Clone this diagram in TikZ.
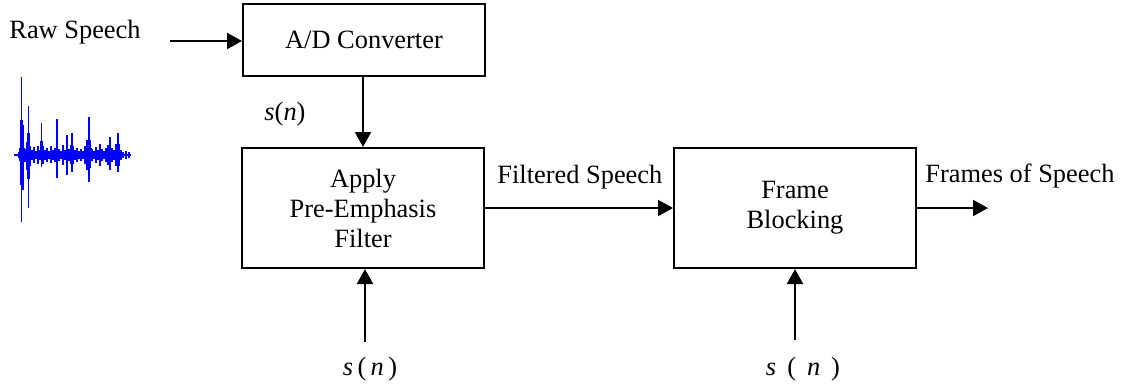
\documentclass[tikz,border=0pt]{standalone}
\usepackage{fontspec}
\setmainfont{Liberation Serif}
\usetikzlibrary{arrows.meta}
\begin{document}
\begin{tikzpicture}[x=0.5pt,y=-0.5pt,
  font=\fontsize{13.2}{15}\selectfont,
  blockbox/.style={draw,line width=1pt,inner sep=0pt,align=center,
    minimum width=121pt,minimum height=60pt},
  flow/.style={line width=1pt,-{Triangle[length=7.5pt,width=8pt]}},
  wave/.style={blue,line width=0.6pt}]
\useasboundingbox (0,0) rectangle (1125,387);

% blocks
\node[blockbox,minimum height=36pt] (ad) at (364,40) {A/D Converter};
\node[blockbox] (pre) at (363,208) {Apply\\Pre-Emphasis\\Filter};
\node[blockbox] (frame) at (795,208) {Frame\\Blocking};

% labels
\node[anchor=base west,inner sep=0pt] (raw) at (9,38) {Raw Speech};
\node[anchor=base,inner sep=0pt] (sn0) at (285,120) {\textit{s}(\textit{n})};
\node[anchor=base west,inner sep=0pt] (filt) at (497,183) {Filtered Speech};
\node[anchor=base west,inner sep=0pt] (fos) at (925,182) {Frames of Speech};
\node[anchor=base,inner sep=0pt] (sn1) at (370,375) {\textit{s}\,(\,\textit{n}\,)};
\node[anchor=base,inner sep=0pt] (sn2) at (803,375) {\textit{s} \,( \,\textit{n} \,)};

% connector end points
\coordinate (rawin) at (170,41);
\coordinate (in1) at (365,342);
\coordinate (in2) at (795,340);
\coordinate (out) at (988,208);

% connectors
\draw[flow] (rawin) -- (rawin -| ad.west);
\draw[flow] (pre.north |- ad.south) -- (pre.north);
\draw[flow] (pre.east) -- (frame.west);
\draw[flow] (frame.east) -- (out);
\draw[flow] (in1) -- (in1 |- pre.south);
\draw[flow] (in2) -- (in2 |- frame.south);

% speech waveform: baseline with low-level noise and distinct peaks,
% each peak thickened near the axis
\draw[wave,line width=0.8pt] (14,155) -- (131,155);
\foreach \x/\u/\d in {
  19/152/158, 20.5/140/168, 21.7/77/222, 23/125/190, 24.5/148/162,
  26.5/142/170, 28.3/106/208, 30/146/166, 32/150/160, 34/147/163,
  36/151/159, 38/146/164, 40/150/160, 41.7/123/167, 43/146/164,
  45/150/160, 47/148/162, 49/151/159, 51/146/163, 53/150/160,
  55/148/162, 57/119/178, 59/149/161, 61/151/159, 63/145/165,
  65/150/160, 67/135/175, 69/149/161, 70.5/145/164, 72/133/172,
  73.5/146/164, 75/150/160, 77/148/162, 79/151/159, 81/149/161,
  83/151/159, 85/146/164, 87/140/170, 89/117/182, 90.5/140/168,
  92/149/161, 94/151/159, 96/147/163, 98/150/160, 100/144/166,
  102/149/161, 104/151/159, 106/148/162, 108/145/165, 110/137/170,
  112/148/162, 114/150/160, 116/144/166, 118/133/172, 119.5/144/166,
  121/150/160, 123/152/158, 126/151/159, 129/152/158}
{
  \draw[wave] (\x,\u) -- (\x,\d);
  \draw[wave,line width=1.3pt] (\x,{155-0.45*(155-\u)}) -- (\x,{155+0.45*(\d-155)});
}
\end{tikzpicture}
\end{document}
